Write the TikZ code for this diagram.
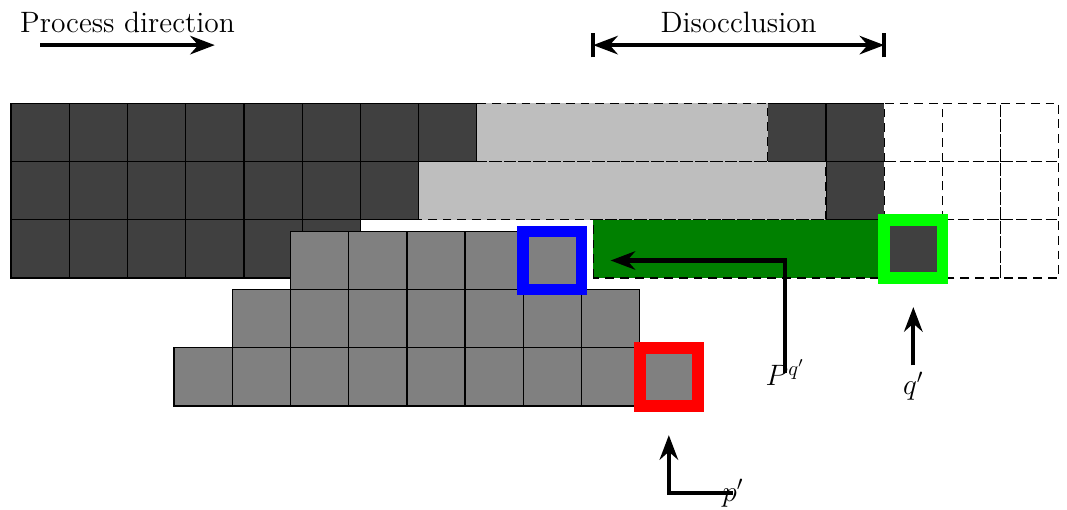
\documentclass[tikz,border=0pt]{standalone}
\usetikzlibrary{arrows.meta}
\definecolor{darkcell}{gray}{0.25}
\definecolor{midcell}{gray}{0.5}
\definecolor{lightcell}{gray}{0.745}
\definecolor{greenfill}{rgb}{0,0.5,0}
\definecolor{framegreen}{rgb}{0,1,0}
\begin{document}
\begin{tikzpicture}[
  font=\fontsize{14.4}{17}\selectfont,
  dcell/.style={fill=darkcell, draw=black, line width=0.6pt},
  gcell/.style={fill=midcell, draw=black, line width=0.6pt},
  dashbox/.style={draw=black, line width=0.6pt, dash pattern=on 4.3pt off 2.9pt},
  arr/.style={line width=2pt, -{Stealth}},
  barline/.style={line width=2pt},
  cellframe/.style={line width=0.2cm}
]
\useasboundingbox (-0.19,-3.97) rectangle (18.14,4.775);

% ---- main grid: dark cells
\foreach \x in {0,...,7} \draw[dcell] (\x,2) rectangle ++(1,1);
\foreach \x in {13,14} \draw[dcell] (\x,2) rectangle ++(1,1);
\foreach \x in {0,...,6} \draw[dcell] (\x,1) rectangle ++(1,1);
\draw[dcell] (14,1) rectangle ++(1,1);
\foreach \x in {0,...,5} \draw[dcell] (\x,0) rectangle ++(1,1);

% ---- light gray (disoccluded) regions
\draw[dashbox, fill=lightcell] (8,2) rectangle (13,3);
\draw[dashbox, fill=lightcell] (7,1) rectangle (14,2);

% ---- empty dashed cells
\foreach \x in {15,16,17} {
  \draw[dashbox, fill=white] (\x,2) rectangle ++(1,1);
  \draw[dashbox, fill=white] (\x,1) rectangle ++(1,1);
}
\foreach \x in {16,17} \draw[dashbox, fill=white] (\x,0) rectangle ++(1,1);

% ---- green region
\draw[dashbox, fill=greenfill] (10,0) rectangle (15,1);

% ---- q' cell with green frame
\fill[darkcell] (15,0) rectangle (16,1);
\draw[cellframe, draw=framegreen] (15,0) rectangle (16,1);

% ---- shifted gray block
\foreach \i in {0,...,3} \draw[gcell] ({4.8+\i},-0.2) rectangle ++(1,1);
\foreach \i in {0,...,6} \draw[gcell] ({3.8+\i},-1.2) rectangle ++(1,1);
\foreach \i in {0,...,7} \draw[gcell] ({2.8+\i},-2.2) rectangle ++(1,1);

% blue framed cell
\fill[midcell] (8.8,-0.2) rectangle ++(1,1);
\draw[cellframe, draw=blue] (8.8,-0.2) rectangle ++(1,1);
% red framed cell
\fill[midcell] (10.8,-2.2) rectangle ++(1,1);
\draw[cellframe, draw=red] (10.8,-2.2) rectangle ++(1,1);

% ---- process direction
\node[anchor=base] (proc) at (2,4.21) {Process direction};
\coordinate (procA) at (0.5,4);
\coordinate (procB) at (3.5,4);
\draw[arr] (procA) -- (procB);

% ---- disocclusion
\node[anchor=base] (disocc) at (12.5,4.21) {Disocclusion};
\coordinate (dL) at (10,4);
\coordinate (dR) at (15,4);
\draw[line width=2pt, {Stealth}-{Stealth}] (dL) -- (dR);
\draw[barline] ([yshift=-0.21cm]dL) -- ([yshift=0.21cm]dL);
\draw[barline] ([yshift=-0.21cm]dR) -- ([yshift=0.21cm]dR);

% ---- P^{q'}
\node (Pq) at (13.3,-1.63) {$P^{q'}$};
\coordinate (Pcorner) at (13.3,0.3);
\coordinate (Ptip) at (10.3,0.3);
\draw[arr] (Pq.center) -- (Pcorner) -- (Ptip);

% ---- q'
\node[anchor=north] (ql) at (15.5,-1.5) {$q'$};
\coordinate (qtip) at (15.5,-0.5);
\draw[arr] (ql.north) -- (qtip);

% ---- p'
\node (pl) at (12.4,-3.7) {$p'$};
\coordinate (pcorner) at (11.3,-3.7);
\coordinate (ptip) at (11.3,-2.7);
\draw[arr] (pl.center) -- (pcorner) -- (ptip);
\end{tikzpicture}
\end{document}
